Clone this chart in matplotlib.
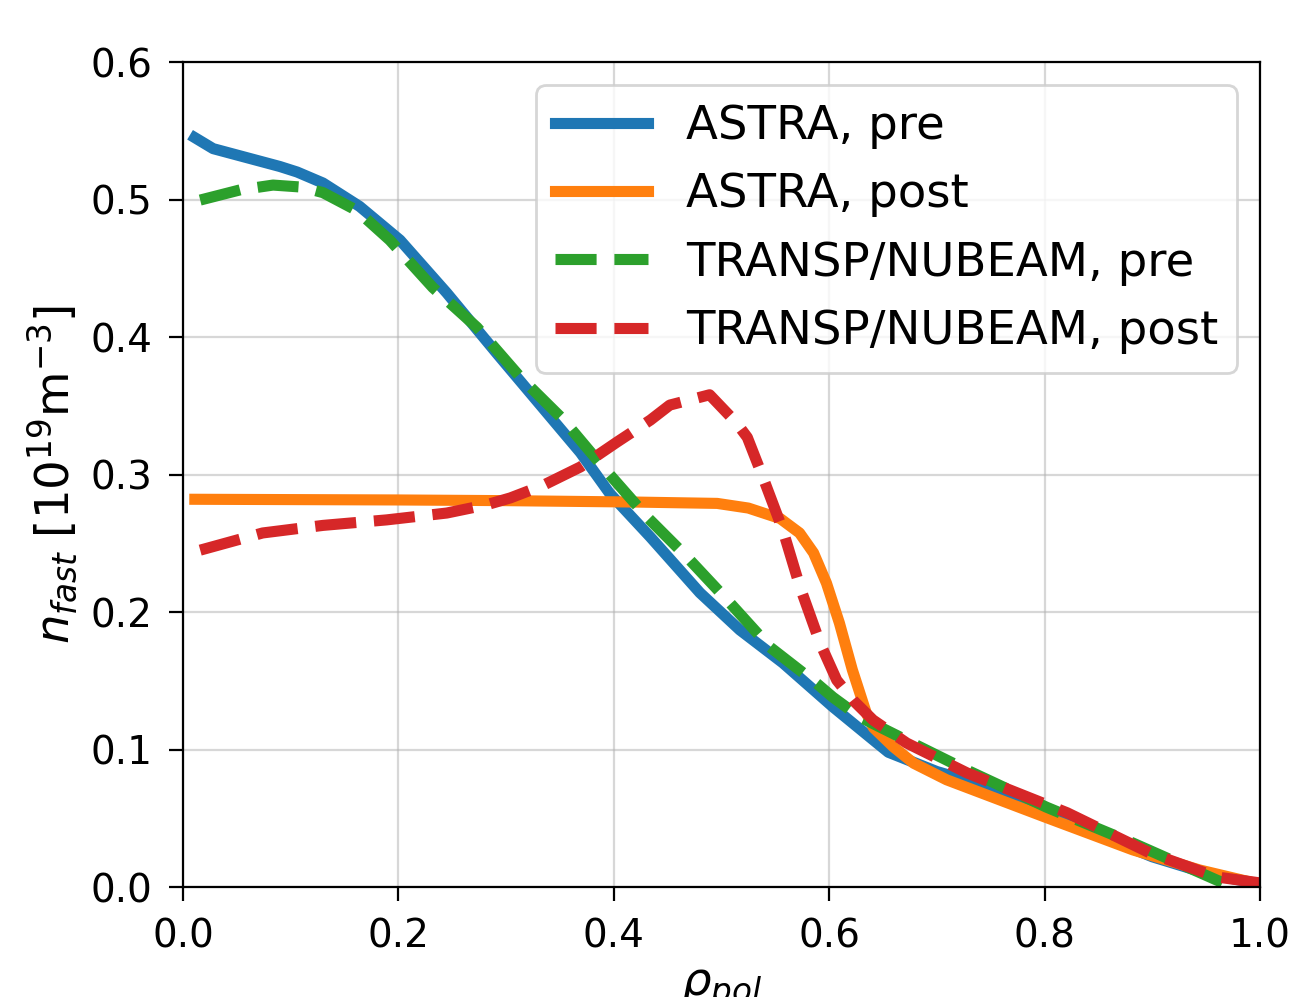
import numpy as np
import matplotlib
matplotlib.use("Agg")
import matplotlib.pyplot as plt

# ASTRA, pre
rho_astra_pre = [0.011, 0.028, 0.09, 0.106, 0.13, 0.164, 0.2015, 0.245, 0.2915, 0.369,
                 0.396, 0.434, 0.48, 0.517, 0.557, 0.6035, 0.644, 0.655, 0.70, 0.759,
                 0.80, 0.85, 0.90, 0.95, 1.0]
n_astra_pre = [0.545, 0.537, 0.524, 0.520, 0.512, 0.495, 0.4705, 0.432, 0.388, 0.316,
               0.2865, 0.2545, 0.214, 0.187, 0.163, 0.131, 0.105, 0.098, 0.084, 0.0705,
               0.053, 0.038, 0.022, 0.010, 0.002]

# ASTRA, post
rho_astra_post = [0.011, 0.2, 0.3, 0.418, 0.496, 0.525, 0.5545, 0.5725, 0.5855, 0.5975,
                  0.6095, 0.6215, 0.6345, 0.641, 0.6595, 0.6785, 0.709, 0.80, 0.882,
                  0.944, 1.0]
n_astra_post = [0.282, 0.2815, 0.281, 0.280, 0.279, 0.2756, 0.268, 0.2575, 0.243, 0.221,
                0.192, 0.158, 0.1265, 0.116, 0.102, 0.090, 0.078, 0.051, 0.027,
                0.0124, 0.002]

# TRANSP/NUBEAM, pre
rho_transp_pre = [0.016, 0.053, 0.0836, 0.111, 0.13, 0.1615, 0.192, 0.232, 0.273, 0.313,
                  0.353, 0.39, 0.431, 0.468, 0.508, 0.545, 0.5885, 0.6035, 0.6286, 0.666,
                  0.728, 0.802, 0.882, 0.96, 0.975]
n_transp_pre = [0.4996, 0.507, 0.5105, 0.509, 0.505, 0.492, 0.4705, 0.436, 0.407, 0.371,
                0.340, 0.3055, 0.269, 0.240, 0.2065, 0.1745, 0.148, 0.138, 0.1236, 0.109,
                0.085, 0.058, 0.032, 0.005, 0.0]

# TRANSP/NUBEAM, post
rho_transp_post = [0.016, 0.074, 0.13, 0.189, 0.245, 0.282, 0.304, 0.334, 0.369, 0.403,
                   0.434, 0.452, 0.489, 0.514, 0.524, 0.5385, 0.557, 0.573, 0.5915, 0.607,
                   0.622, 0.6407, 0.672, 0.728, 0.821, 0.898, 0.96, 1.0]
n_transp_post = [0.245, 0.2575, 0.263, 0.267, 0.272, 0.278, 0.283, 0.292, 0.3055, 0.3236,
                 0.3396, 0.3505, 0.358, 0.3375, 0.327, 0.298, 0.2596, 0.218, 0.1775, 0.1505,
                 0.136, 0.1215, 0.1047, 0.083, 0.054, 0.0247, 0.0073, 0.003]

plt.rcParams['font.size'] = 14

fig = plt.figure(figsize=(6.47, 4.985), dpi=200)
ax = fig.add_axes([0.1414, 0.1103, 0.8323, 0.8275])

ax.plot(rho_astra_pre, n_astra_pre, '-', lw=4, label='ASTRA, pre')
ax.plot(rho_astra_post, n_astra_post, '-', lw=4, label='ASTRA, post')
ax.plot(rho_transp_pre, n_transp_pre, '--', lw=4, label='TRANSP/NUBEAM, pre')
ax.plot(rho_transp_post, n_transp_post, '--', lw=4, label='TRANSP/NUBEAM, post')

ax.set_xlim(0, 1)
ax.set_ylim(0, 0.6)
ax.tick_params(length=5, pad=6)
ax.set_xlabel(r'$\rho_{pol}$', fontsize='large')
ax.set_ylabel(r'$n_{fast}$ [$10^{19}$m$^{-3}$]', fontsize='large')
ax.grid(alpha=0.5)
ax.legend(loc='upper right', fontsize='large')

fig.savefig('out.png', dpi=200)
